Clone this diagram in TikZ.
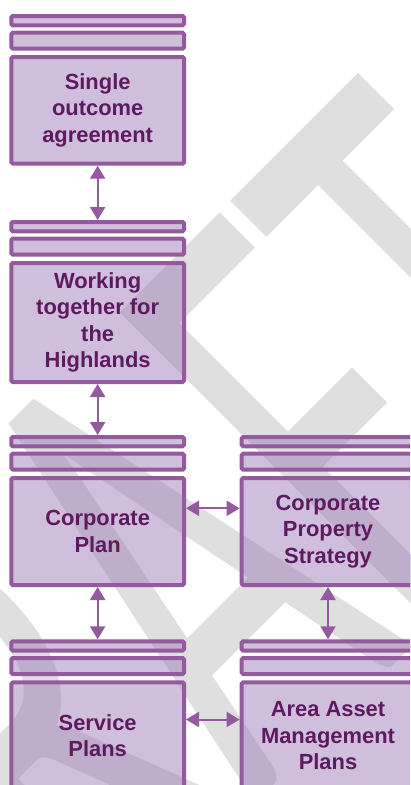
\documentclass[tikz,border=0pt]{standalone}
\usepackage{fontspec}
\usetikzlibrary{arrows.meta}
\newfontfamily\boxfont{Liberation Sans}
\newfontfamily\wmfont{Carlito}
\definecolor{boxline}{RGB}{147,90,158}
\definecolor{boxfill}{RGB}{161,127,185}
\definecolor{boxtext}{RGB}{94,26,94}
\definecolor{wmgray}{RGB}{223,223,223}

% one plan: two thin header strips above a labelled main box
\newcommand\planstack[5]{%
  \node[frame, minimum height=9.3pt] (#1a) at (#2,{-(#3+6.65)}) {};
  \node[frame, minimum height=16pt] (#1b) at (#2,{-(#3+26.7)}) {};
  \node[frame, mainbox, minimum height=#4pt] (#1) at (#2,{-(#3+43+#4/2)}) {#5};
}

\begin{document}
\begin{tikzpicture}[x=1pt,y=1pt,
  frame/.style={draw=boxline, line width=4pt, fill=boxfill, fill opacity=0.5,
    draw opacity=1, text opacity=1, rounded corners=1.5pt,
    minimum width=172.7pt, inner sep=0pt, outer sep=0pt},
  mainbox/.style={text=boxtext, align=center,
    font=\boxfont\bfseries\fontsize{21.9}{26.4}\selectfont},
  link/.style={draw=boxline, line width=2pt, shorten <=2pt, shorten >=2pt,
    {Triangle[length=13pt,width=15pt]}-{Triangle[length=13pt,width=15pt]}},
  watermark/.style={text=wmgray, inner sep=0pt, outer sep=0pt,
    font=\wmfont\fontsize{100}{100}\selectfont}
]
\useasboundingbox (0,0) rectangle (410,-785);
\clip (0,0) rectangle (410,-785);

% background watermark
\begin{scope}[shift={(362.4,-70.4)}]
  \node[watermark, rotate=45, xscale=3.9, yscale=6.9, transform shape,
    anchor=north east] (wm) at (0,0) {DRAFT};
\end{scope}

\planstack{soa}{97.65}{14}{106.7}{Single\\outcome\\agreement}
\planstack{wth}{97.65}{220}{119}{Working\\together for\\the\\Highlands}
\planstack{cp}{97.65}{435}{107}{Corporate\\Plan}
\planstack{cps}{328}{435}{107}{Corporate\\Property\\Strategy}
\planstack{sp}{97.65}{639.3}{107}{Service\\Plans}
\planstack{aam}{328}{639.3}{107}{Area Asset\\Management\\Plans}

\draw[link] (soa.south) -- (wtha.north);
\draw[link] (wth.south) -- (cpa.north);
\draw[link] (cp.south) -- (spa.north);
\draw[link] (cps.south) -- (aama.north);
\draw[link] ([yshift=23.2pt]cp.east) -- ([yshift=23.2pt]cps.west);
\draw[link] ([yshift=16.3pt]sp.east) -- ([yshift=16.3pt]aam.west);
\end{tikzpicture}
\end{document}
